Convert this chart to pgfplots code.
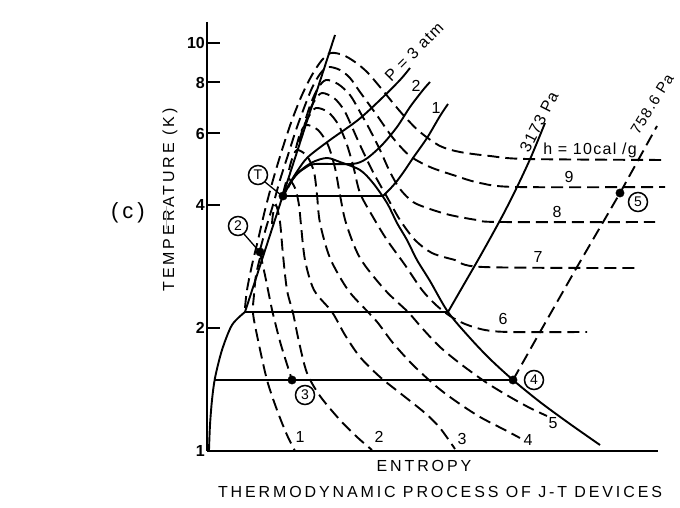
\documentclass[border=0pt]{standalone}
\usepackage{fontspec}
\setmainfont{Liberation Sans}
\newfontfamily\spaced[LetterSpace=18]{Liberation Sans}
\newfontfamily\spacedb[LetterSpace=8]{Liberation Sans}
\usepackage{pgfplots}
\pgfplotsset{compat=1.18}
\begin{document}
\begin{tikzpicture}[x=1pt,y=1pt]
\useasboundingbox (0,0) rectangle (680,508);
\begin{axis}[
  at={(207pt,57pt)}, anchor=south west,
  scale only axis, width=453pt, height=429pt,
  xmin=207, xmax=660, ymin=22, ymax=451,
  y dir=reverse,
  axis x line=none, axis y line=left,
  y axis line style={-, line width=2.5pt},
  ytick={451,328,205,133.5,82.5,43},
  yticklabels={1,2,4,6,8,10},
  tick align=inside, major tick length=13pt,
  ytick style={line width=2pt, black},
  yticklabel style={font=\fontsize{16}{18}\selectfont\bfseries, inner sep=2pt},
  /pgf/number format/assume math mode=true,
  clip=false,
  solid/.style={black, line width=1.9pt, smooth, tension=0.5},
  dsh/.style={black, line width=1.9pt, smooth, tension=0.5, dash pattern=on 12pt off 6pt},
]
% bottom axis
\addplot[black, line width=2.5pt] coordinates {(207,451) (658,451)};
% left solid curve to lambda point
\addplot[solid] coordinates {(209,450) (210,425) (212,400) (215,378) (222,350) (232,325) (245,312)};
% lambda line and 1.5 K line
\addplot[black, line width=1.9pt] coordinates {(245,312) (448,312)};
\addplot[black, line width=1.9pt] coordinates {(215,380) (513,380)};
% steep (inversion) line
\addplot[black, line width=1.9pt] coordinates {(245,312) (335,35)};
% saturation dome and vapour line
\addplot[solid] coordinates {(283,196) (290,183) (300,171) (313,162) (327,158) (340,162) (360,170) (373,183) (387,203) (397,223) (407,240) (417,260) (430,281) (448,312) (470,338) (490,359) (513,380) (540,402) (570,424) (600,445)};
% isobars
\addplot[solid] coordinates {(285,193) (290,183) (298,170) (308,157) (330,140) (358,120) (380,100) (400,80) (410,68)};
\addplot[solid] coordinates {(288,188) (295,176) (305,168) (315,164) (352,164) (366,159) (382,145) (397,127) (410,107) (423,90) (430,82)};
\addplot[black, line width=1.9pt] coordinates {(283,196) (383,196)};
\addplot[solid] coordinates {(383,196) (390,189) (397,181) (405,170) (413,158) (427,138) (440,116) (448,104)};
% 3173 Pa
\addplot[solid] coordinates {(448,312) (463,286) (478,260) (492,235) (505,211) (518,185) (531,157) (545,123)};
% 758.6 Pa (dashed, 4 -> 5)
\addplot[black, line width=1.9pt, dash pattern=on 12pt off 6pt] coordinates {(513,380) (540,332) (577,267) (620,193) (657,126)};
% isenthalps
\addplot[dsh] coordinates {(245,308) (247,290) (252,265) (258,240) (265,210) (273,180) (282,150) (292,120) (302,95) (312,75) (322,60) (331,53) (343,55) (355,62) (367,72) (380,87) (393,103) (405,117) (420,132) (440,146) (460,152) (490,156) (527,159) (667,160)};
\addplot[dsh] coordinates {(260,250) (266,228) (273,205) (280,180) (288,155) (296,130) (304,108) (312,88) (320,74) (328,67) (340,70) (350,78) (360,92) (376,114) (393,138) (410,156) (430,167) (453,175) (480,183) (517,187) (665,187)};
\addplot[dsh] coordinates {(306,118) (311,103) (318,88) (326,80) (338,84) (350,95) (360,112) (370,130) (380,150) (390,172) (400,189) (413,202) (430,209) (450,215) (477,220) (500,222) (655,222)};
\addplot[dsh] coordinates {(304,128) (309,112) (315,100) (322,93) (334,98) (344,110) (352,127) (360,145) (373,172) (387,197) (400,220) (415,240) (432,253) (455,260) (483,267) (637,268)};
\addplot[dsh] coordinates {(299,142) (303,128) (309,116) (316,108) (328,112) (338,124) (346,142) (353,165) (360,193) (373,217) (387,240) (405,265) (422,290) (436,305) (450,316) (465,324) (485,330) (510,332) (587,332)};
\addplot[dsh] coordinates {(296,148) (300,134) (306,125) (318,130) (328,145) (335,168) (340,195) (346,223) (360,258) (385,290) (408,312) (422,328) (440,347) (462,365) (487,383) (510,397) (530,408) (547,416)};
\addplot[dsh] coordinates {(289,170) (292,159) (297,150) (307,156) (314,172) (317,195) (320,223) (330,258) (348,290) (368,312) (378,323) (393,343) (413,365) (437,387) (457,402) (480,417) (505,430) (520,438)};
\addplot[dsh] coordinates {(283,194) (285,186) (288,178) (295,188) (299,205) (301,225) (305,260) (314,290) (332,312) (345,335) (360,357) (380,377) (400,393) (425,413) (440,428) (455,449)};
\addplot[dsh] coordinates {(272,224) (273,214) (276,205) (280,222) (283,255) (287,290) (293,313) (299,342) (307,373) (320,396) (340,420) (357,437) (372,450)};
\addplot[dsh] coordinates {(260,258) (256,275) (254,295) (253,313) (258,340) (267,380) (277,410) (287,435) (295,451)};
% process 2 -> 3
\addplot[dsh] coordinates {(260,252) (266,280) (271,305) (274,318) (281,345) (292,380)};
% state points
\addplot[only marks, mark=*, mark size=4.2pt, black] coordinates {(283,196) (260,252) (292,380) (513,380) (620,193)};
% leaders
\addplot[black, line width=1.3pt] coordinates {(265,182) (281,195)};
\addplot[black, line width=1.3pt] coordinates {(244,234) (258,250)};
% circled labels
\begin{scope}[every node/.style={circle, draw, line width=1.5pt, fill=white, inner sep=0pt, minimum size=19pt, font=\fontsize{14}{16}\selectfont}]
\node at (axis cs:258,175) {T};
\node at (axis cs:238,226) {2};
\node at (axis cs:305,395) {3};
\node at (axis cs:534,380) {4};
\node at (axis cs:638,202) {5};
\end{scope}
% curve labels
\begin{scope}[every node/.style={font=\fontsize{16}{18}\selectfont\spacedb, inner sep=1pt}]
\node[rotate=45] at (axis cs:414,52) {P = 3 atm};
\node at (axis cs:416,86) {2};
\node at (axis cs:436,108) {1};
\node[rotate=63] at (axis cs:539,122) {3173 Pa};
\node[rotate=58, font=\fontsize{15}{17}\selectfont\spacedb] at (axis cs:652,104) {758.6 Pa};
\node at (axis cs:590,150) {h = 10cal /g};
\node at (axis cs:569,177) {9};
\node at (axis cs:557,212) {8};
\node at (axis cs:538,257) {7};
\node at (axis cs:503,319) {6};
\node at (axis cs:300,437) {1};
\node at (axis cs:379,437) {2};
\node at (axis cs:462,439) {3};
\node at (axis cs:528,440) {4};
\node at (axis cs:553,423) {5};
\end{scope}
% axis titles
\node[rotate=90, font=\fontsize{16}{18}\selectfont\spaced] at (axis cs:170,200) {TEMPERATURE (K)};
\node[font=\fontsize{16}{18}\selectfont\spaced] at (axis cs:424,466) {ENTROPY};
\node[font=\fontsize{16}{18}\selectfont\spaced] at (axis cs:440,492) {THERMODYNAMIC PROCESS OF J-T DEVICES};
\node[font=\fontsize{22}{26}\selectfont\spaced] at (axis cs:128,213) {(c)};
\draw[gray!60, line width=0.8pt] (axis cs:166,206) -- (axis cs:166,229);
\end{axis}
\end{tikzpicture}
\end{document}
